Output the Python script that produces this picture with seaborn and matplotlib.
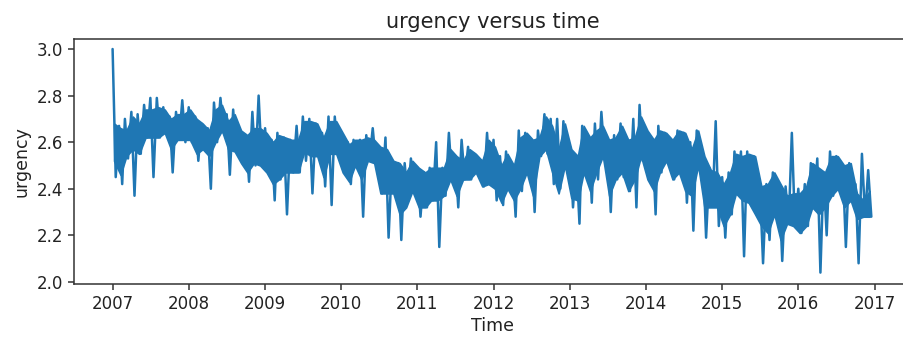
import numpy as np
import pandas as pd
import matplotlib
matplotlib.use("Agg")
import matplotlib.pyplot as plt
import matplotlib.dates as mdates
import seaborn as sns

# monthly readings (start of month, 2007-01 .. 2016-12)
month_starts = pd.date_range("2007-01-01", periods=120, freq="MS")
# extreme excursions within each month (spikes included)
hi = [3.00, 2.67, 2.70, 2.73, 2.72, 2.76, 2.79, 2.79, 2.75, 2.71,
      2.73, 2.78, 2.75, 2.71, 2.68, 2.66, 2.77, 2.79, 2.72, 2.74,
      2.65, 2.63, 2.73, 2.80, 2.66, 2.61, 2.64, 2.62, 2.61, 2.67,
      2.71, 2.70, 2.68, 2.64, 2.71, 2.71, 2.64, 2.60, 2.61, 2.61,
      2.63, 2.66, 2.58, 2.62, 2.52, 2.51, 2.51, 2.53, 2.49, 2.47,
      2.49, 2.60, 2.49, 2.64, 2.54, 2.61, 2.58, 2.55, 2.52, 2.64,
      2.61, 2.54, 2.56, 2.50, 2.65, 2.64, 2.61, 2.65, 2.72, 2.70,
      2.70, 2.69, 2.58, 2.52, 2.67, 2.62, 2.68, 2.73, 2.61, 2.63,
      2.68, 2.61, 2.70, 2.76, 2.65, 2.60, 2.67, 2.64, 2.61, 2.65,
      2.64, 2.60, 2.65, 2.54, 2.49, 2.69, 2.45, 2.47, 2.56, 2.56,
      2.56, 2.54, 2.41, 2.42, 2.47, 2.42, 2.41, 2.64, 2.40, 2.42,
      2.51, 2.53, 2.47, 2.56, 2.54, 2.50, 2.51, 2.42, 2.55, 2.48]
lo = [2.45, 2.42, 2.53, 2.37, 2.55, 2.62, 2.45, 2.62, 2.64, 2.47,
      2.61, 2.60, 2.60, 2.52, 2.57, 2.40, 2.60, 2.64, 2.46, 2.56,
      2.51, 2.43, 2.50, 2.52, 2.47, 2.35, 2.44, 2.29, 2.47, 2.47,
      2.52, 2.38, 2.54, 2.41, 2.33, 2.55, 2.47, 2.42, 2.50, 2.28,
      2.52, 2.51, 2.38, 2.19, 2.38, 2.18, 2.36, 2.39, 2.28, 2.32,
      2.35, 2.15, 2.37, 2.44, 2.32, 2.44, 2.44, 2.47, 2.41, 2.42,
      2.35, 2.33, 2.40, 2.28, 2.39, 2.47, 2.30, 2.54, 2.55, 2.42,
      2.40, 2.50, 2.32, 2.25, 2.47, 2.34, 2.44, 2.54, 2.30, 2.44,
      2.45, 2.39, 2.32, 2.52, 2.44, 2.29, 2.47, 2.52, 2.44, 2.47,
      2.34, 2.22, 2.50, 2.19, 2.33, 2.24, 2.19, 2.29, 2.38, 2.11,
      2.34, 2.29, 2.08, 2.18, 2.29, 2.09, 2.25, 2.24, 2.21, 2.24,
      2.32, 2.04, 2.20, 2.37, 2.40, 2.15, 2.35, 2.08, 2.28, 2.28]
# typical (dense) range of the daily values within each month
core_hi = [2.68, 2.66, 2.65, 2.71, 2.68, 2.74, 2.74, 2.75, 2.74, 2.70,
           2.72, 2.72, 2.74, 2.70, 2.68, 2.65, 2.74, 2.76, 2.69, 2.72,
           2.65, 2.63, 2.66, 2.66, 2.64, 2.60, 2.63, 2.62, 2.61, 2.61,
           2.69, 2.69, 2.68, 2.62, 2.69, 2.69, 2.64, 2.59, 2.61, 2.61,
           2.62, 2.61, 2.58, 2.57, 2.52, 2.51, 2.47, 2.52, 2.49, 2.47,
           2.49, 2.49, 2.49, 2.57, 2.54, 2.52, 2.57, 2.55, 2.52, 2.61,
           2.58, 2.50, 2.55, 2.50, 2.62, 2.64, 2.61, 2.62, 2.71, 2.67,
           2.57, 2.68, 2.57, 2.54, 2.67, 2.62, 2.65, 2.67, 2.61, 2.62,
           2.67, 2.61, 2.62, 2.71, 2.65, 2.61, 2.65, 2.64, 2.61, 2.65,
           2.64, 2.57, 2.65, 2.54, 2.48, 2.47, 2.42, 2.47, 2.55, 2.54,
           2.55, 2.54, 2.41, 2.42, 2.47, 2.42, 2.37, 2.38, 2.38, 2.41,
           2.51, 2.49, 2.47, 2.54, 2.54, 2.50, 2.51, 2.38, 2.35, 2.39]
core_lo = [2.52, 2.46, 2.54, 2.57, 2.55, 2.62, 2.62, 2.62, 2.64, 2.57,
           2.61, 2.61, 2.61, 2.55, 2.57, 2.54, 2.60, 2.65, 2.57, 2.56,
           2.51, 2.47, 2.51, 2.50, 2.47, 2.42, 2.44, 2.47, 2.47, 2.47,
           2.56, 2.54, 2.54, 2.45, 2.55, 2.55, 2.47, 2.43, 2.50, 2.44,
           2.52, 2.51, 2.38, 2.38, 2.38, 2.29, 2.32, 2.39, 2.32, 2.32,
           2.35, 2.35, 2.37, 2.44, 2.37, 2.44, 2.44, 2.47, 2.41, 2.42,
           2.40, 2.34, 2.40, 2.35, 2.40, 2.47, 2.37, 2.54, 2.57, 2.47,
           2.38, 2.50, 2.36, 2.35, 2.47, 2.39, 2.47, 2.54, 2.37, 2.44,
           2.47, 2.39, 2.44, 2.54, 2.44, 2.39, 2.47, 2.52, 2.44, 2.47,
           2.39, 2.37, 2.50, 2.32, 2.32, 2.32, 2.24, 2.29, 2.38, 2.35,
           2.34, 2.29, 2.24, 2.21, 2.29, 2.18, 2.25, 2.24, 2.21, 2.24,
           2.32, 2.29, 2.32, 2.37, 2.40, 2.32, 2.35, 2.27, 2.28, 2.28]
year_ticks = list(range(2007, 2018))

times, values = [], []
for d, h, l in zip(month_starts, hi, lo):
    times += [d, d + pd.Timedelta(days=15)]
    values += [h, l]
df = pd.DataFrame({"Time": times, "urgency": values})
band_t = month_starts + pd.Timedelta(days=7)

sns.set_style("ticks")
plt.rcParams["font.family"] = ["DejaVu Sans"]

W, H = 904, 337
fig = plt.figure(figsize=(W / 100, H / 100), dpi=100)
ax = fig.add_axes([74 / W, 1 - 284 / H, (912 - 74) / W, (284 - 39) / H])

blue = "#1f77b4"
ax.fill_between(band_t, core_lo, core_hi, color=blue, linewidth=1.2,
                edgecolor=blue)
sns.lineplot(data=df, x="Time", y="urgency", ax=ax, color=blue,
             linewidth=1.8, estimator=None, sort=True)

ax.set_xlim(pd.Timestamp("2006-06-30"), pd.Timestamp("2017-06-29"))
ax.set_ylim(1.991, 3.043)
ax.xaxis.set_major_locator(mdates.YearLocator())
ax.xaxis.set_major_formatter(mdates.DateFormatter("%Y"))
ax.set_yticks([2.0, 2.2, 2.4, 2.6, 2.8, 3.0])
ax.set_yticklabels(["2.0", "2.2", "2.4", "2.6", "2.8", "3.0"])

ax.spines["right"].set_visible(False)
for s in ax.spines.values():
    s.set_color("#333333")
    s.set_linewidth(1.1)
ax.tick_params(axis="both", labelsize=12, length=4.5, width=1.1,
               color="#333333", labelcolor="#222222")
ax.set_title("urgency versus time", fontsize=15, color="#222222", pad=8)
ax.set_xlabel("Time", fontsize=12.5, color="#222222", labelpad=3)
ax.set_ylabel("urgency", fontsize=12.5, color="#222222", labelpad=4)

fig.savefig("out.png", dpi=100)
